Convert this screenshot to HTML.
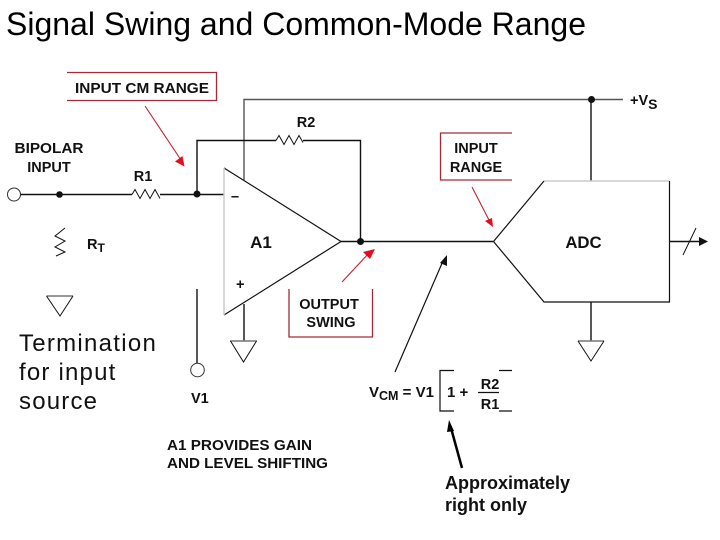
<!DOCTYPE html>
<html><head><meta charset="utf-8"><style>
html,body{margin:0;padding:0;background:#fff}
svg{display:block}
text{font-family:"Liberation Sans",sans-serif}
.d{font-weight:bold;font-size:14.5px;fill:#111}
</style></head><body>
<svg width="720" height="540" viewBox="0 0 720 540" xmlns="http://www.w3.org/2000/svg">
<rect width="720" height="540" fill="#fff"/>
<text x="6" y="35" font-size="32" fill="#000" textLength="580" lengthAdjust="spacingAndGlyphs">Signal Swing and Common-Mode Range</text>

<g fill="none" stroke="#a52a3a" stroke-width="1.3">
<path d="M67 72.5H216.5V100.5H67"/>
<path d="M512 133H440.5V180H512"/>
<path d="M289 289V337H372.500V289"/>
</g>
<g fill="none" stroke="#111" stroke-width="1.4">
<path d="M244 180V99.500H623" stroke="#555"/>
<path d="M591 99.500V181"/>
<path d="M20.500 194.500H132M160 194.500H224"/>
<path d="M132 194.500l3-5 5 9 5-9 5 9 5-9 5 9" stroke-width="1"/>
<path d="M197 194.500V140.500H276M303 140.500H360.500V241"/>
<path d="M276 140.500l3-5 5 9 5-9 5 9 5-9 4 7" stroke-width="1"/>
<path d="M341 241.500H493"/>
<path d="M197 289V363"/>
<path d="M244 304V341"/>
<path d="M591 302V341"/>
<path d="M670 241.500H700"/>
<path d="M683 255L696 228" stroke-width="1"/>
<path d="M65 228l-10 8 10 5-10 6 10 5-9 4" stroke-width="1"/>
<path d="M224 168L341 241.500L224 315" stroke-width="1.200"/>
<path d="M224 168V315" stroke="#ccc" stroke-width="1.500"/>
<path d="M544 181H669.500" stroke="#ccc" stroke-width="1.500"/>
<path d="M544 181L493.500 241.500L544 302H669.500V181" stroke-width="1.200"/>
<path d="M46.500 296H73" stroke="#777"/>
<path d="M46.500 296L60 316L73 296" stroke-width="1"/>
<path d="M230 341H257" stroke="#777"/>
<path d="M230.500 341L243.500 362L256.500 341" stroke-width="1"/>
<path d="M578 341H604" stroke="#777"/>
<path d="M578 341L591 361L604 341" stroke-width="1"/>
<circle cx="14" cy="194.500" r="6.500" stroke="#333" fill="#fff" stroke-width="1"/>
<circle cx="197.500" cy="370" r="6.800" stroke="#333" fill="#fff" stroke-width="1"/>
<path d="M454 370.500H440V411H454M512 370.500H499M512 411H499" stroke-width="1.200"/>
<path d="M478 392.500H499" stroke-width="1.200"/>
</g>
<g fill="#111">
<circle cx="59.500" cy="194.500" r="3.300"/>
<circle cx="197" cy="194" r="3.500"/>
<circle cx="360.500" cy="241.500" r="3.500"/>
<circle cx="591.500" cy="99.500" r="3.500"/>
<path d="M708 241.500L699 237V246Z"/>
</g>

<g stroke="#c8202f" stroke-width="1.100" fill="none">
<path d="M145 106L181 160"/>
<path d="M472 187L490 222"/>
<path d="M342 282L369 253"/>
</g>
<g fill="#e0101f">
<path d="M184.500 166.500L175 161.500L182.500 156Z"/>
<path d="M493 227L485 221L492 218Z"/>
<path d="M375 249L370 259L363 252Z"/>
</g>
<path d="M395 372L443 261" stroke="#111" stroke-width="1.200" fill="none"/>
<path d="M447 255L447 266L440 263Z" fill="#111"/>
<path d="M462 468L451 428" stroke="#000" stroke-width="2.500" fill="none"/>
<path d="M449 420L454 431L447 432Z" fill="#000"/>

<text class="d" x="75" y="93" textLength="134" lengthAdjust="spacingAndGlyphs">INPUT CM RANGE</text>
<text class="d" x="49" y="153" text-anchor="middle" textLength="69" lengthAdjust="spacingAndGlyphs">BIPOLAR</text>
<text class="d" x="49" y="172" text-anchor="middle">INPUT</text>
<text class="d" x="143" y="181" text-anchor="middle">R1</text>
<text class="d" x="306" y="127" text-anchor="middle">R2</text>
<text class="d" x="87" y="249">R<tspan font-size="12" dy="3">T</tspan></text>
<text class="d" x="231" y="201" font-size="16">–</text>
<text class="d" x="236" y="289" font-size="14">+</text>
<text class="d" x="261" y="248" text-anchor="middle" style="font-size:17px">A1</text>
<text class="d" x="583.500" y="248" text-anchor="middle" style="font-size:16.800px">ADC</text>
<text class="d" x="476" y="153" text-anchor="middle">INPUT</text>
<text class="d" x="476" y="172" text-anchor="middle">RANGE</text>
<text class="d" x="329" y="309" text-anchor="middle">OUTPUT</text>
<text class="d" x="331" y="327" text-anchor="middle">SWING</text>
<text class="d" x="630" y="105" style="font-size:14.500px">+V<tspan font-size="14" dy="4">S</tspan></text>
<text class="d" x="191" y="403">V1</text>
<text class="d" x="167" y="450" textLength="145" lengthAdjust="spacingAndGlyphs">A1 PROVIDES GAIN</text>
<text class="d" x="167" y="468" textLength="161" lengthAdjust="spacingAndGlyphs">AND LEVEL SHIFTING</text>
<text class="d" x="369" y="397" style="font-size:15px">V<tspan font-size="12.500" dy="3">CM</tspan><tspan dy="-3"> = V1</tspan></text>
<text class="d" x="447" y="397" style="font-size:15px">1 +</text>
<text class="d" x="490" y="389" text-anchor="middle">R2</text>
<text class="d" x="490" y="409" text-anchor="middle">R1</text>

<g font-size="24" fill="#111" style="letter-spacing:1.200px">
<text x="19" y="351" textLength="138">Termination</text>
<text x="19" y="380">for input</text>
<text x="19" y="409">source</text>
</g>
<g font-size="18" font-weight="bold" fill="#111">
<text x="445" y="489">Approximately</text>
<text x="445" y="511">right only</text>
</g>
</svg>
</body></html>
